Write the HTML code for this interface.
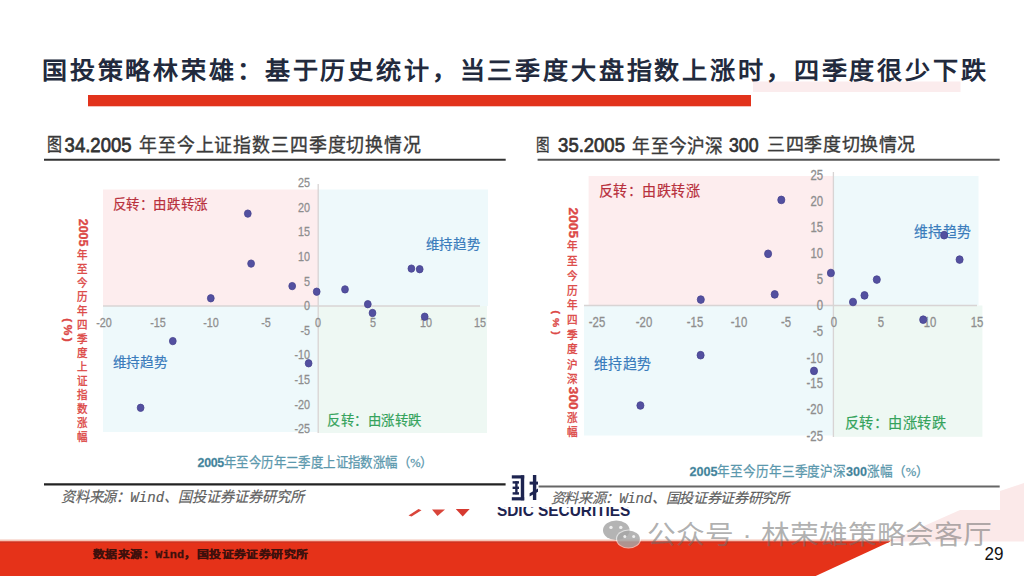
<!DOCTYPE html><html lang="zh-CN"><head><meta charset="utf-8"><style>html,body{margin:0;padding:0;background:#fff;width:1024px;height:576px;overflow:hidden;position:relative}
.t{position:absolute;white-space:nowrap;line-height:1}
.k{position:absolute;white-space:nowrap;line-height:1;color:#8e8e8e;font-family:'Liberation Sans',sans-serif;-webkit-text-stroke:0.3px #8e8e8e}
.s{position:absolute;left:0;top:0}</style></head><body>
<svg class="s" width="1024" height="576" viewBox="0 0 1024 576"><polygon points="889,541.6 960,510 1000,510 1000,491 1024,483 1024,541.6" fill="#fbe9e9"/><rect x="103" y="189.5" width="215" height="116.5" fill="#fdedee"/><rect x="318" y="189.5" width="170" height="116.5" fill="#eef9fb"/><rect x="103" y="306" width="215" height="126" fill="#eef9fb"/><rect x="318" y="306" width="169" height="127" fill="#eef8f3"/><line x1="103" y1="306" x2="480" y2="306" stroke="#d8d4d4" stroke-width="1.6"/><line x1="318.2" y1="184" x2="318.2" y2="433" stroke="#d8d4d4" stroke-width="1.3"/><rect x="588.6" y="176" width="244.4" height="129.5" fill="#fdedee"/><rect x="833" y="176" width="145.5" height="129.5" fill="#eef9fb"/><rect x="584" y="305.5" width="249" height="130.0" fill="#eef9fb"/><rect x="833" y="305.5" width="149.4" height="131.3" fill="#eef8f3"/><line x1="584" y1="305.5" x2="977" y2="305.5" stroke="#d8d4d4" stroke-width="1.6"/><line x1="833.4" y1="172" x2="833.4" y2="437" stroke="#d8d4d4" stroke-width="1.3"/><line x1="44" y1="159.8" x2="505.7" y2="159.8" stroke="#333" stroke-width="2"/><line x1="537.6" y1="159.8" x2="999.7" y2="159.8" stroke="#555" stroke-width="2"/><line x1="44" y1="484.4" x2="505.6" y2="484.4" stroke="#222" stroke-width="2.2"/><line x1="538.6" y1="486.4" x2="999.7" y2="486.4" stroke="#666" stroke-width="2"/><polygon points="0,539.6 893.4,539.6 890.4,541.6 0,541.6" fill="#f4c4b6"/><polygon points="0,541.6 890.4,541.6 815.7,576 0,576" fill="#e53219"/><polygon points="0,541.6 890.4,541.6 887.2,543.1 0,543.1" fill="#cf3220"/><rect x="88" y="95" width="663" height="11.3" fill="#e2331c"/><rect x="753" y="81.5" width="207.5" height="10.5" fill="#fbeced"/><polygon points="408.5,515.5 418.5,509 421.5,510.2 411.5,516.5" fill="#d9453a"/><polygon points="432,509.5 445,509.5 437.5,516" fill="#d9453a"/><polygon points="455.8,509 469.7,509 462.7,516.5" fill="#d63a30"/><g fill="#1d2450"><rect x="511.8" y="475.3" width="12.4" height="3.2"/><rect x="520.8" y="475.3" width="3.4" height="25"/><rect x="511.8" y="497.2" width="12.4" height="3.2"/><rect x="512.6" y="481.2" width="6.4" height="2.4"/><rect x="512.6" y="486.6" width="6.4" height="2.4"/><rect x="512.6" y="492.2" width="6.4" height="2.4"/><rect x="515.2" y="481.2" width="2.4" height="13"/><rect x="532.9" y="475" width="3.4" height="25"/><rect x="529.6" y="481.6" width="8.4" height="3"/><polygon points="529.6,493.2 538,488.6 538,491.8 529.6,496.4"/></g></svg>
<div class="k" style="left:-690.5px;top:176.35px;width:1000px;text-align:right;font-size:13.5px;transform-origin:100% 50%;transform:scaleX(0.8)">25</div>
<div class="k" style="left:-690.5px;top:201.05px;width:1000px;text-align:right;font-size:13.5px;transform-origin:100% 50%;transform:scaleX(0.8)">20</div>
<div class="k" style="left:-690.5px;top:225.25px;width:1000px;text-align:right;font-size:13.5px;transform-origin:100% 50%;transform:scaleX(0.8)">15</div>
<div class="k" style="left:-690.5px;top:250.25px;width:1000px;text-align:right;font-size:13.5px;transform-origin:100% 50%;transform:scaleX(0.8)">10</div>
<div class="k" style="left:-690.5px;top:274.75px;width:1000px;text-align:right;font-size:13.5px;transform-origin:100% 50%;transform:scaleX(0.8)">5</div>
<div class="k" style="left:-690.5px;top:298.75px;width:1000px;text-align:right;font-size:13.5px;transform-origin:100% 50%;transform:scaleX(0.8)">0</div>
<div class="k" style="left:-690.5px;top:324.15px;width:1000px;text-align:right;font-size:13.5px;transform-origin:100% 50%;transform:scaleX(0.8)">-5</div>
<div class="k" style="left:-690.5px;top:348.35px;width:1000px;text-align:right;font-size:13.5px;transform-origin:100% 50%;transform:scaleX(0.8)">-10</div>
<div class="k" style="left:-690.5px;top:373.35px;width:1000px;text-align:right;font-size:13.5px;transform-origin:100% 50%;transform:scaleX(0.8)">-15</div>
<div class="k" style="left:-690.5px;top:397.75px;width:1000px;text-align:right;font-size:13.5px;transform-origin:100% 50%;transform:scaleX(0.8)">-20</div>
<div class="k" style="left:-690.5px;top:421.95px;width:1000px;text-align:right;font-size:13.5px;transform-origin:100% 50%;transform:scaleX(0.8)">-25</div>
<div class="k" style="left:-396.1px;top:315.55px;width:1000px;text-align:center;font-size:13.5px;transform-origin:50% 50%;transform:scaleX(0.8)">-20</div>
<div class="k" style="left:-342.0px;top:315.55px;width:1000px;text-align:center;font-size:13.5px;transform-origin:50% 50%;transform:scaleX(0.8)">-15</div>
<div class="k" style="left:-288.6px;top:315.55px;width:1000px;text-align:center;font-size:13.5px;transform-origin:50% 50%;transform:scaleX(0.8)">-10</div>
<div class="k" style="left:-234.5px;top:315.55px;width:1000px;text-align:center;font-size:13.5px;transform-origin:50% 50%;transform:scaleX(0.8)">-5</div>
<div class="k" style="left:-181.7px;top:315.55px;width:1000px;text-align:center;font-size:13.5px;transform-origin:50% 50%;transform:scaleX(0.8)">0</div>
<div class="k" style="left:-127.5px;top:315.55px;width:1000px;text-align:center;font-size:13.5px;transform-origin:50% 50%;transform:scaleX(0.8)">5</div>
<div class="k" style="left:-74.0px;top:315.55px;width:1000px;text-align:center;font-size:13.5px;transform-origin:50% 50%;transform:scaleX(0.8)">10</div>
<div class="k" style="left:-19.69999999999999px;top:315.55px;width:1000px;text-align:center;font-size:13.5px;transform-origin:50% 50%;transform:scaleX(0.8)">15</div>
<div class="k" style="left:-176.60000000000002px;top:168.3px;width:1000px;text-align:right;font-size:14.2px;transform-origin:100% 50%;transform:scaleX(0.8)">25</div>
<div class="k" style="left:-176.60000000000002px;top:194.1px;width:1000px;text-align:right;font-size:14.2px;transform-origin:100% 50%;transform:scaleX(0.8)">20</div>
<div class="k" style="left:-176.60000000000002px;top:219.8px;width:1000px;text-align:right;font-size:14.2px;transform-origin:100% 50%;transform:scaleX(0.8)">15</div>
<div class="k" style="left:-176.60000000000002px;top:245.6px;width:1000px;text-align:right;font-size:14.2px;transform-origin:100% 50%;transform:scaleX(0.8)">10</div>
<div class="k" style="left:-176.60000000000002px;top:271.9px;width:1000px;text-align:right;font-size:14.2px;transform-origin:100% 50%;transform:scaleX(0.8)">5</div>
<div class="k" style="left:-176.60000000000002px;top:297.7px;width:1000px;text-align:right;font-size:14.2px;transform-origin:100% 50%;transform:scaleX(0.8)">0</div>
<div class="k" style="left:-176.60000000000002px;top:324.2px;width:1000px;text-align:right;font-size:14.2px;transform-origin:100% 50%;transform:scaleX(0.8)">-5</div>
<div class="k" style="left:-176.60000000000002px;top:351.0px;width:1000px;text-align:right;font-size:14.2px;transform-origin:100% 50%;transform:scaleX(0.8)">-10</div>
<div class="k" style="left:-176.60000000000002px;top:376.29999999999995px;width:1000px;text-align:right;font-size:14.2px;transform-origin:100% 50%;transform:scaleX(0.8)">-15</div>
<div class="k" style="left:-176.60000000000002px;top:402.4px;width:1000px;text-align:right;font-size:14.2px;transform-origin:100% 50%;transform:scaleX(0.8)">-20</div>
<div class="k" style="left:-176.60000000000002px;top:429.2px;width:1000px;text-align:right;font-size:14.2px;transform-origin:100% 50%;transform:scaleX(0.8)">-25</div>
<div class="k" style="left:96.60000000000002px;top:315.4px;width:1000px;text-align:center;font-size:14.2px;transform-origin:50% 50%;transform:scaleX(0.8)">-25</div>
<div class="k" style="left:143.60000000000002px;top:315.4px;width:1000px;text-align:center;font-size:14.2px;transform-origin:50% 50%;transform:scaleX(0.8)">-20</div>
<div class="k" style="left:194.5px;top:315.4px;width:1000px;text-align:center;font-size:14.2px;transform-origin:50% 50%;transform:scaleX(0.8)">-15</div>
<div class="k" style="left:239.0px;top:315.4px;width:1000px;text-align:center;font-size:14.2px;transform-origin:50% 50%;transform:scaleX(0.8)">-10</div>
<div class="k" style="left:285.6px;top:315.4px;width:1000px;text-align:center;font-size:14.2px;transform-origin:50% 50%;transform:scaleX(0.8)">-5</div>
<div class="k" style="left:333.79999999999995px;top:315.4px;width:1000px;text-align:center;font-size:14.2px;transform-origin:50% 50%;transform:scaleX(0.8)">0</div>
<div class="k" style="left:381.0px;top:315.4px;width:1000px;text-align:center;font-size:14.2px;transform-origin:50% 50%;transform:scaleX(0.8)">5</div>
<div class="k" style="left:430.4px;top:315.4px;width:1000px;text-align:center;font-size:14.2px;transform-origin:50% 50%;transform:scaleX(0.8)">10</div>
<div class="k" style="left:476.79999999999995px;top:315.4px;width:1000px;text-align:center;font-size:14.2px;transform-origin:50% 50%;transform:scaleX(0.8)">15</div>
<div style="position:absolute;left:490px;top:507.2px;width:150px;height:9.3px;overflow:hidden"><div style="position:absolute;white-space:nowrap;left:6.6px;top:-5.3px;font-size:17px;line-height:17px;font-weight:bold;color:#1d2450;font-family:'Liberation Sans', sans-serif;transform-origin:0 0;transform:scaleX(0.905)">SDIC SECURITIES</div></div>
<svg class="s" width="1024" height="576"><ellipse cx="616.3" cy="530.2" rx="13.3" ry="9.8" fill="rgba(130,130,130,0.6)"/><ellipse cx="628.5" cy="539" rx="12.6" ry="9.4" fill="#fff" opacity="0.6"/><ellipse cx="628.5" cy="539" rx="11.4" ry="8.6" fill="rgba(130,130,130,0.6)"/><g fill="#fff" opacity="0.8"><circle cx="611" cy="527.4" r="1.7"/><circle cx="620.8" cy="527.4" r="1.7"/><circle cx="624.8" cy="536.6" r="1.5"/><circle cx="633.7" cy="536.6" r="1.5"/></g></svg>
<div class="t" style="left:40px;top:53px;font-size:25.500px;color:#222a3d;font-weight:bold;font-family:'Liberation Sans', sans-serif;letter-spacing:2.300px;transform-origin:1px -1px;transform:translate(1.90px,6.70px) scale(0.9839,0.9269)">国投策略林荣雄：基于历史统计，当三季度大盘指数上涨时，四季度很少下跌</div>
<div class="t" style="left:46px;top:131px;font-size:18px;color:#3a3a3a;font-family:'Liberation Sans', sans-serif;-webkit-text-stroke:0.35px #3a3a3a;transform-origin:1px -1px;transform:translate(0.40px,5.20px) scale(0.8313,1.0167)">图</div>
<div class="t" style="left:64px;top:131px;font-size:22px;color:#333;font-family:'Liberation Sans', sans-serif;-webkit-text-stroke:0.8px #333;transform-origin:0px 2px;transform:translate(0.60px,3.70px) scale(0.8418,0.9412)">34.2005</div>
<div class="t" style="left:138px;top:131px;font-size:18.600px;color:#3a3a3a;font-family:'Liberation Sans', sans-serif;-webkit-text-stroke:0.35px #3a3a3a;letter-spacing:0.600px;transform-origin:0px -1px;transform:translate(0.90px,5.20px) scale(0.9628,1.0263)">年至今上证指数三四季度切换情况</div>
<div class="t" style="left:537px;top:131px;font-size:18px;color:#3a3a3a;font-family:'Liberation Sans', sans-serif;-webkit-text-stroke:0.35px #3a3a3a;transform-origin:1px -1px;transform:translate(-0.80px,6.10px) scale(0.7500,0.9389)">图</div>
<div class="t" style="left:557px;top:131px;font-size:22px;color:#333;font-family:'Liberation Sans', sans-serif;-webkit-text-stroke:0.8px #333;transform-origin:0px 2px;transform:translate(1.10px,4.20px) scale(0.8405,0.8941)">35.2005</div>
<div class="t" style="left:632px;top:131px;font-size:18.000px;color:#3a3a3a;font-family:'Liberation Sans', sans-serif;-webkit-text-stroke:0.35px #3a3a3a;letter-spacing:0.600px;transform-origin:0px -1px;transform:translate(0.30px,5.90px) scale(0.9837,1.0444)">年至今沪深</div>
<div class="t" style="left:729px;top:131px;font-size:22px;color:#333;font-family:'Liberation Sans', sans-serif;-webkit-text-stroke:0.8px #333;transform-origin:0px 2px;transform:translate(0.00px,4.40px) scale(0.8041,0.8824)">300</div>
<div class="t" style="left:767px;top:131px;font-size:18.000px;color:#3a3a3a;font-family:'Liberation Sans', sans-serif;-webkit-text-stroke:0.35px #3a3a3a;letter-spacing:0.600px;transform-origin:0px -1px;transform:translate(0.30px,5.20px) scale(0.9980,0.9842)">三四季度切换情况</div>
<div class="t" style="left:111px;top:197px;font-weight:normal;font-family:'Liberation Serif', serif;font-size:13.800px;-webkit-text-stroke:0.2px currentColor;color:#b8303c;letter-spacing:0.000px;transform-origin:0px -1px;transform:translate(1.50px,1.00px) scale(0.9755,1.0000)">反转：由跌转涨</div>
<div class="t" style="left:425px;top:237px;font-weight:normal;font-family:'Liberation Serif', serif;font-size:13.800px;-webkit-text-stroke:0.2px currentColor;color:#3a7cbc;letter-spacing:0.000px;transform-origin:0px -1px;transform:translate(0.80px,0.80px) scale(0.9714,0.9786)">维持趋势</div>
<div class="t" style="left:112px;top:354px;font-weight:normal;font-family:'Liberation Serif', serif;font-size:13.800px;-webkit-text-stroke:0.2px currentColor;color:#3a7cbc;letter-spacing:0.000px;transform-origin:0px -1px;transform:translate(0.50px,1.60px) scale(0.9893,1.0000)">维持趋势</div>
<div class="t" style="left:326px;top:412px;font-weight:normal;font-family:'Liberation Serif', serif;font-size:13.800px;-webkit-text-stroke:0.2px currentColor;color:#35a35c;letter-spacing:0.000px;transform-origin:0px -1px;transform:translate(1.00px,1.50px) scale(0.9694,1.0000)">反转：由涨转跌</div>
<div class="t" style="left:598px;top:183px;font-weight:normal;font-family:'Liberation Serif', serif;font-size:14.600px;-webkit-text-stroke:0.2px currentColor;color:#b8303c;letter-spacing:0.000px;transform-origin:0px -1px;transform:translate(0.80px,1.30px) scale(0.9635,0.9733)">反转：由跌转涨</div>
<div class="t" style="left:913px;top:223px;font-weight:normal;font-family:'Liberation Serif', serif;font-size:14.600px;-webkit-text-stroke:0.2px currentColor;color:#3a7cbc;letter-spacing:0.000px;transform-origin:0px -1px;transform:translate(1.00px,1.40px) scale(0.9500,1.0400)">维持趋势</div>
<div class="t" style="left:593px;top:355px;font-weight:normal;font-family:'Liberation Serif', serif;font-size:14.600px;-webkit-text-stroke:0.2px currentColor;color:#3a7cbc;letter-spacing:0.000px;transform-origin:0px -1px;transform:translate(1.00px,1.80px) scale(0.9567,0.9933)">维持趋势</div>
<div class="t" style="left:845px;top:415px;font-weight:normal;font-family:'Liberation Serif', serif;font-size:14.600px;-webkit-text-stroke:0.2px currentColor;color:#35a35c;letter-spacing:0.000px;transform-origin:1px -1px;transform:translate(-0.50px,1.50px) scale(0.9728,0.9800)">反转：由涨转跌</div>
<div class="t" style="left:197px;top:455px;font-family:'Liberation Serif', serif;font-size:12.668px;color:#5b98ad;-webkit-text-stroke:0.25px #5b98ad;letter-spacing:-0.364px;transform-origin:0px -1px;transform:translate(0.60px,1.30px) scale(0.9830,1.0346)"><b style="font-family:&quot;Liberation Sans&quot;,sans-serif;color:#3f7f98">2005</b>年至今历年三季度上证指数涨幅（%）</div>
<div class="t" style="left:689px;top:464px;font-family:'Liberation Serif', serif;font-size:12.785px;color:#5b98ad;-webkit-text-stroke:0.25px #5b98ad;letter-spacing:0.008px;transform-origin:0px -1px;transform:translate(0.40px,1.10px) scale(0.9880,1.0385)"><b style="font-family:&quot;Liberation Sans&quot;,sans-serif;color:#3f7f98">2005</b>年至今历年三季度沪深<b style="font-family:&quot;Liberation Sans&quot;,sans-serif;color:#3f7f98">300</b>涨幅（%）</div>
<div class="t" style="left:60px;top:489px;font-style:italic;font-family:'Liberation Mono', monospace;font-size:14.240px;color:#5e5e5e;-webkit-text-stroke:0.15px #5e5e5e;letter-spacing:0.017px;transform-origin:0px -1px;transform:translate(0.70px,1.40px) scale(0.9931,1.0429)">资料来源：Wind、国投证券证券研究所</div>
<div class="t" style="left:550px;top:490px;font-style:italic;font-family:'Liberation Mono', monospace;font-size:14.156px;color:#5e5e5e;-webkit-text-stroke:0.15px #5e5e5e;letter-spacing:-0.330px;transform-origin:0px -1px;transform:translate(0.70px,1.70px) scale(1.0021,1.0000)">资料来源：Wind、国投证券证券研究所</div>
<div class="t" style="left:91px;top:547px;font-weight:bold;font-family:'Liberation Mono', monospace;font-size:11.600px;color:#3e100c;-webkit-text-stroke:0.3px #3e100c;letter-spacing:0.200px;transform-origin:-1px -2px;transform:translate(2.00px,3.30px) scale(1.0184,0.8769)">数据来源：Wind，国投证券证券研究所</div>
<div class="t" style="left:648px;top:518px;font-family:'Liberation Sans', sans-serif;font-size:27.500px;color:rgba(110,110,110,0.55);letter-spacing:0.600px;transform-origin:2px -1px;transform:translate(-1.00px,4.50px) scale(1.0466,0.9556)">公众号 · 林荣雄策略会客厅</div>
<div class="t" style="left:982px;top:545px;font-family:'Liberation Sans', sans-serif;font-size:17px;color:#111;transform-origin:0px 2px;transform:translate(2.40px,0.30px) scale(1.0053,1.0417)">29</div>
<div class="t" style="left:76px;top:218px;font-weight:normal;font-family:'Liberation Serif', serif;color:#dc4846;white-space:normal;-webkit-text-stroke:0.35px #dc4846;font-size:11px;transform-origin:2px 0px;transform:translate(-0.30px,0.70px) scale(0.9545,1.0013)"><div style="position:absolute;left:14.0px;top:0px;height:14px;line-height:14px;font-family:'Liberation Sans', sans-serif;font-weight:bold;font-size:12.5px;letter-spacing:0px;transform-origin:0 0;transform:rotate(90deg)">2005</div><div style="position:absolute;left:0;top:28.800000000000004px;width:14px;text-align:center;line-height:14px">年</div><div style="position:absolute;left:0;top:42.800000000000004px;width:14px;text-align:center;line-height:14px">至</div><div style="position:absolute;left:0;top:56.800000000000004px;width:14px;text-align:center;line-height:14px">今</div><div style="position:absolute;left:0;top:70.80000000000001px;width:14px;text-align:center;line-height:14px">历</div><div style="position:absolute;left:0;top:84.80000000000001px;width:14px;text-align:center;line-height:14px">年</div><div style="position:absolute;left:0;top:98.80000000000001px;width:14px;text-align:center;line-height:14px">四</div><div style="position:absolute;left:0;top:112.80000000000001px;width:14px;text-align:center;line-height:14px">季</div><div style="position:absolute;left:0;top:126.80000000000001px;width:14px;text-align:center;line-height:14px">度</div><div style="position:absolute;left:0;top:140.8px;width:14px;text-align:center;line-height:14px">上</div><div style="position:absolute;left:0;top:154.8px;width:14px;text-align:center;line-height:14px">证</div><div style="position:absolute;left:0;top:168.8px;width:14px;text-align:center;line-height:14px">指</div><div style="position:absolute;left:0;top:182.8px;width:14px;text-align:center;line-height:14px">数</div><div style="position:absolute;left:0;top:196.8px;width:14px;text-align:center;line-height:14px">涨</div><div style="position:absolute;left:0;top:210.8px;width:14px;text-align:center;line-height:14px">幅</div></div>
<div class="t" style="left:60px;top:318px;font-weight:normal;font-family:'Liberation Serif', serif;color:#dc4846;white-space:normal;-webkit-text-stroke:0.35px #dc4846;font-size:11px;transform-origin:-1px 0px;transform:translate(2.30px,0.30px) scale(0.9636,1.0318)"><div style="position:absolute;left:12.0px;top:0px;height:12px;line-height:12px;font-family:'Liberation Sans', sans-serif;font-weight:bold;font-size:11.5px;letter-spacing:2.4px;transform-origin:0 0;transform:rotate(90deg)">(%)</div></div>
<div class="t" style="left:566px;top:207px;font-weight:normal;font-family:'Liberation Serif', serif;color:#dc4846;white-space:normal;-webkit-text-stroke:0.35px #dc4846;font-size:11px;transform-origin:2px 0px;transform:translate(-1.10px,0.60px) scale(0.9636,1.0128)"><div style="position:absolute;left:14.6px;top:0px;height:14.6px;line-height:14.6px;font-family:'Liberation Sans', sans-serif;font-weight:bold;font-size:13.5px;letter-spacing:0px;transform-origin:0 0;transform:rotate(90deg)">2005</div><div style="position:absolute;left:0;top:31.024px;width:14.6px;text-align:center;line-height:14.6px">年</div><div style="position:absolute;left:0;top:45.624px;width:14.6px;text-align:center;line-height:14.6px">至</div><div style="position:absolute;left:0;top:60.224000000000004px;width:14.6px;text-align:center;line-height:14.6px">今</div><div style="position:absolute;left:0;top:74.824px;width:14.6px;text-align:center;line-height:14.6px">历</div><div style="position:absolute;left:0;top:89.42399999999999px;width:14.6px;text-align:center;line-height:14.6px">年</div><div style="position:absolute;left:0;top:104.02399999999999px;width:14.6px;text-align:center;line-height:14.6px">四</div><div style="position:absolute;left:0;top:118.62399999999998px;width:14.6px;text-align:center;line-height:14.6px">季</div><div style="position:absolute;left:0;top:133.224px;width:14.6px;text-align:center;line-height:14.6px">度</div><div style="position:absolute;left:0;top:147.82399999999998px;width:14.6px;text-align:center;line-height:14.6px">沪</div><div style="position:absolute;left:0;top:162.42399999999998px;width:14.6px;text-align:center;line-height:14.6px">深</div><div style="position:absolute;left:14.6px;top:177.02399999999997px;height:14.6px;line-height:14.6px;font-family:'Liberation Sans', sans-serif;font-weight:bold;font-size:13.5px;letter-spacing:0px;transform-origin:0 0;transform:rotate(90deg)">300</div><div style="position:absolute;left:0;top:200.54199999999997px;width:14.6px;text-align:center;line-height:14.6px">涨</div><div style="position:absolute;left:0;top:215.14199999999997px;width:14.6px;text-align:center;line-height:14.6px">幅</div></div>
<div class="t" style="left:550px;top:310px;font-weight:normal;font-family:'Liberation Serif', serif;color:#dc4846;white-space:normal;-webkit-text-stroke:0.35px #dc4846;font-size:11px;transform-origin:-1px 0px;transform:translate(1.50px,0.50px) scale(0.8545,1.0125)"><div style="position:absolute;left:11.0px;top:0px;height:11px;line-height:11px;font-family:'Liberation Sans', sans-serif;font-weight:bold;font-size:10.2px;letter-spacing:4px;transform-origin:0 0;transform:rotate(90deg)">(%)</div></div>
<svg class="s" width="1024" height="576" viewBox="0 0 1024 576"><ellipse cx="247.8" cy="213.6" rx="3.4000000000000004" ry="3.7" fill="#5350a0" stroke="#47448f" stroke-width="0.8"/><ellipse cx="251.1" cy="263.6" rx="3.4000000000000004" ry="3.7" fill="#5350a0" stroke="#47448f" stroke-width="0.8"/><ellipse cx="292.2" cy="286.1" rx="3.4000000000000004" ry="3.7" fill="#5350a0" stroke="#47448f" stroke-width="0.8"/><ellipse cx="316.7" cy="291.7" rx="3.4000000000000004" ry="3.7" fill="#5350a0" stroke="#47448f" stroke-width="0.8"/><ellipse cx="210.8" cy="298.3" rx="3.4000000000000004" ry="3.7" fill="#5350a0" stroke="#47448f" stroke-width="0.8"/><ellipse cx="345" cy="289.4" rx="3.4000000000000004" ry="3.7" fill="#5350a0" stroke="#47448f" stroke-width="0.8"/><ellipse cx="367.8" cy="304.2" rx="3.4000000000000004" ry="3.7" fill="#5350a0" stroke="#47448f" stroke-width="0.8"/><ellipse cx="372.5" cy="313" rx="3.4000000000000004" ry="3.7" fill="#5350a0" stroke="#47448f" stroke-width="0.8"/><ellipse cx="411.4" cy="268.6" rx="3.4000000000000004" ry="3.7" fill="#5350a0" stroke="#47448f" stroke-width="0.8"/><ellipse cx="419.7" cy="269.2" rx="3.4000000000000004" ry="3.7" fill="#5350a0" stroke="#47448f" stroke-width="0.8"/><ellipse cx="424.7" cy="316.7" rx="3.4000000000000004" ry="3.7" fill="#5350a0" stroke="#47448f" stroke-width="0.8"/><ellipse cx="172.8" cy="341.1" rx="3.4000000000000004" ry="3.7" fill="#5350a0" stroke="#47448f" stroke-width="0.8"/><ellipse cx="140.6" cy="407.8" rx="3.4000000000000004" ry="3.7" fill="#5350a0" stroke="#47448f" stroke-width="0.8"/><ellipse cx="308.6" cy="363.3" rx="3.4000000000000004" ry="3.7" fill="#5350a0" stroke="#47448f" stroke-width="0.8"/><ellipse cx="781.3" cy="199.9" rx="3.5500000000000003" ry="3.85" fill="#5350a0" stroke="#47448f" stroke-width="0.8"/><ellipse cx="768.1" cy="253.8" rx="3.5500000000000003" ry="3.85" fill="#5350a0" stroke="#47448f" stroke-width="0.8"/><ellipse cx="700.8" cy="299.6" rx="3.5500000000000003" ry="3.85" fill="#5350a0" stroke="#47448f" stroke-width="0.8"/><ellipse cx="774.7" cy="294.4" rx="3.5500000000000003" ry="3.85" fill="#5350a0" stroke="#47448f" stroke-width="0.8"/><ellipse cx="830.9" cy="273" rx="3.5500000000000003" ry="3.85" fill="#5350a0" stroke="#47448f" stroke-width="0.8"/><ellipse cx="853" cy="302" rx="3.5500000000000003" ry="3.85" fill="#5350a0" stroke="#47448f" stroke-width="0.8"/><ellipse cx="864.5" cy="295.4" rx="3.5500000000000003" ry="3.85" fill="#5350a0" stroke="#47448f" stroke-width="0.8"/><ellipse cx="876.8" cy="279.6" rx="3.5500000000000003" ry="3.85" fill="#5350a0" stroke="#47448f" stroke-width="0.8"/><ellipse cx="944.1" cy="235.2" rx="3.5500000000000003" ry="3.85" fill="#5350a0" stroke="#47448f" stroke-width="0.8"/><ellipse cx="959.6" cy="259.6" rx="3.5500000000000003" ry="3.85" fill="#5350a0" stroke="#47448f" stroke-width="0.8"/><ellipse cx="923.2" cy="319.7" rx="3.5500000000000003" ry="3.85" fill="#5350a0" stroke="#47448f" stroke-width="0.8"/><ellipse cx="700.6" cy="355.2" rx="3.5500000000000003" ry="3.85" fill="#5350a0" stroke="#47448f" stroke-width="0.8"/><ellipse cx="640.4" cy="405.5" rx="3.5500000000000003" ry="3.85" fill="#5350a0" stroke="#47448f" stroke-width="0.8"/><ellipse cx="814" cy="370.9" rx="3.5500000000000003" ry="3.85" fill="#5350a0" stroke="#47448f" stroke-width="0.8"/></svg>
</body></html>
